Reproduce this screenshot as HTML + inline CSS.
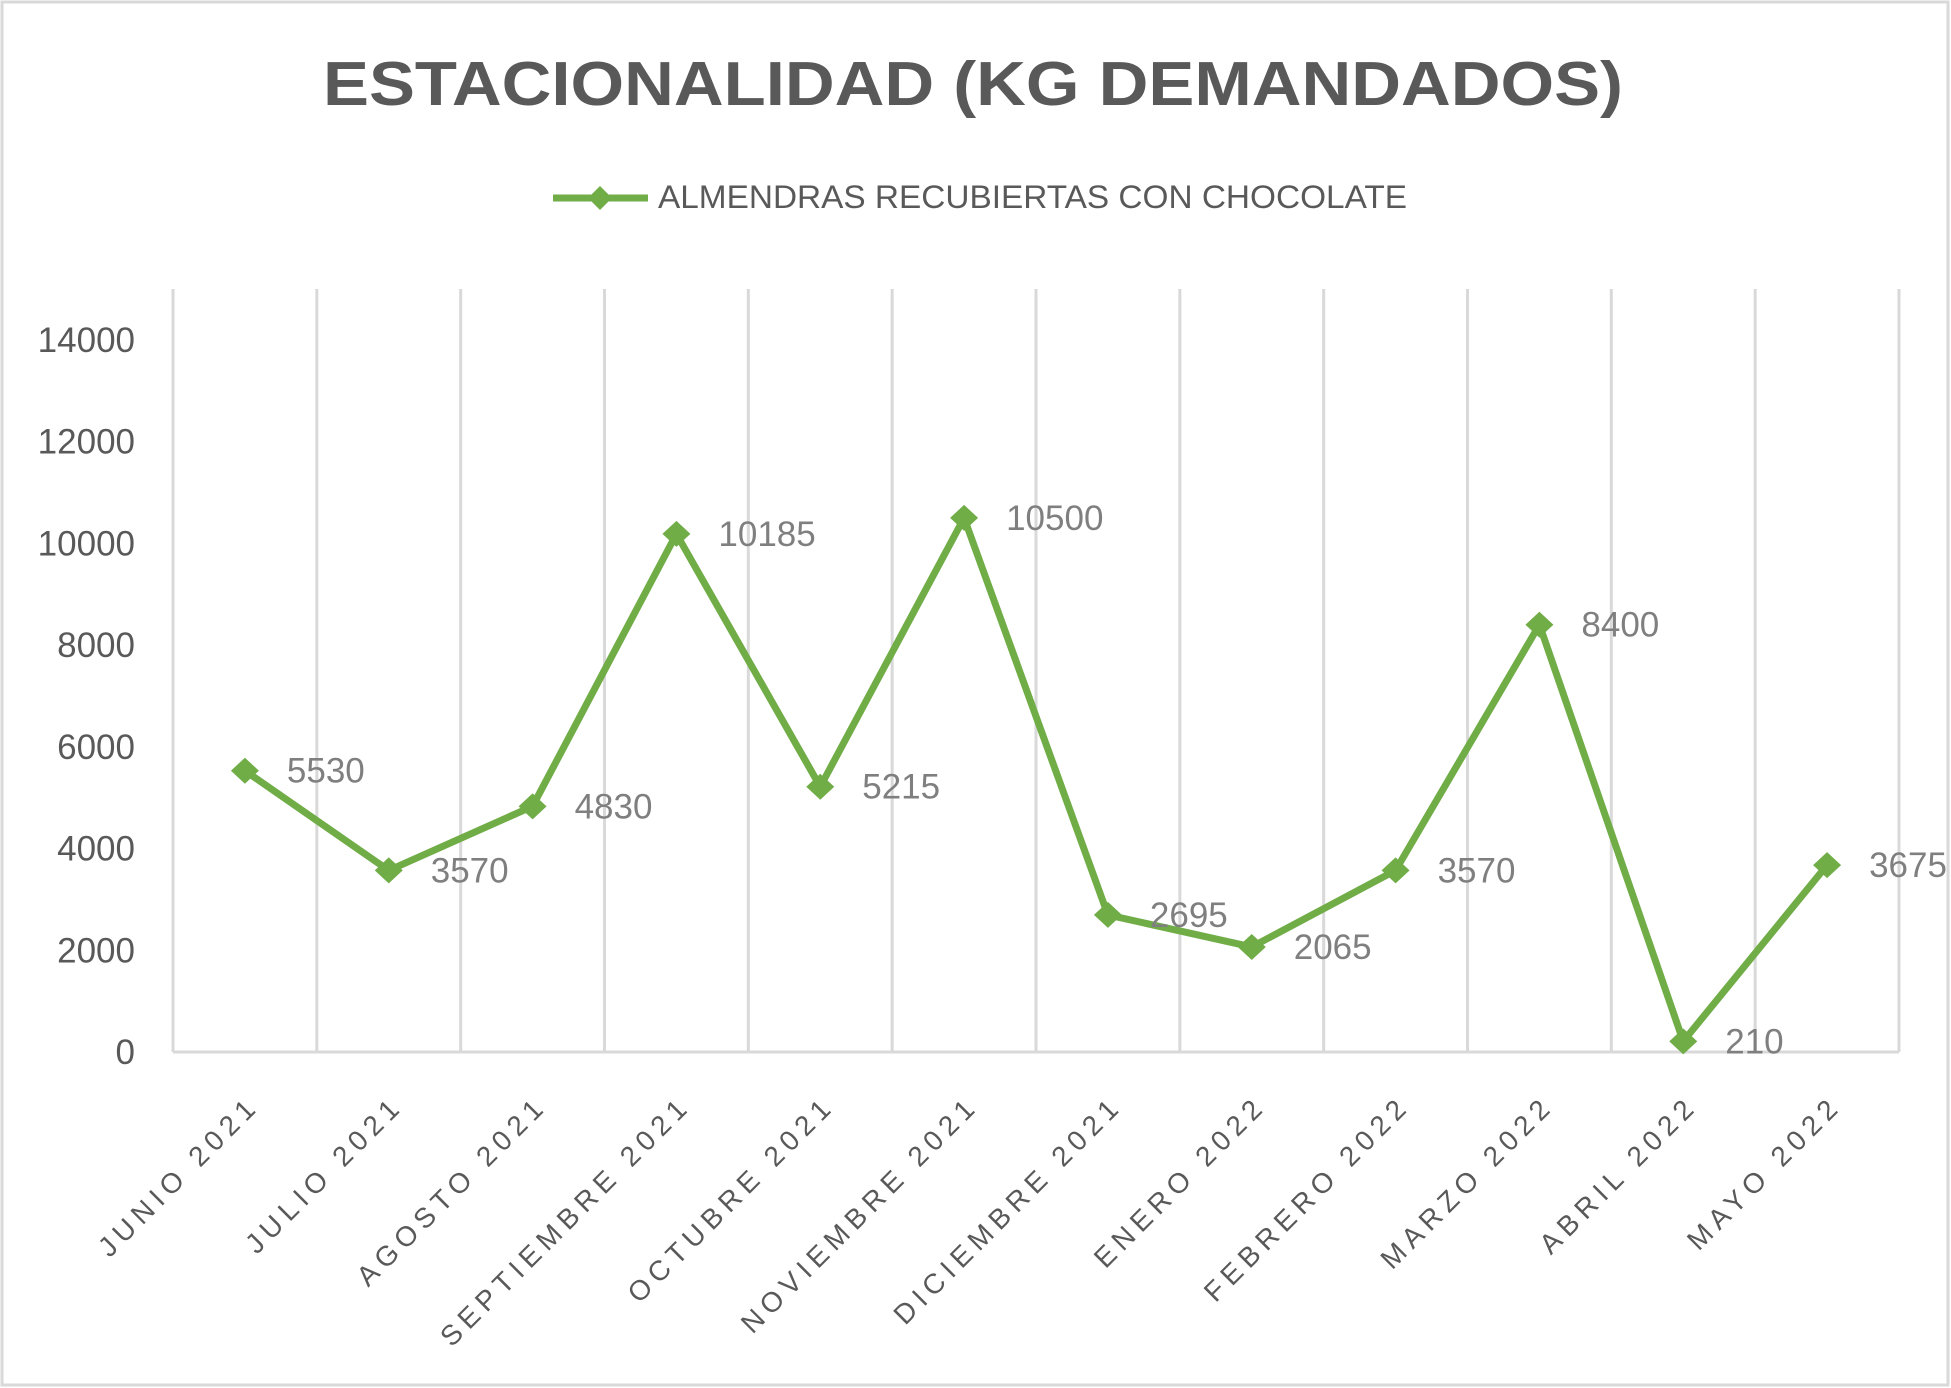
<!DOCTYPE html>
<html><head><meta charset="utf-8"><style>
html,body{margin:0;padding:0;background:#fff}
svg{display:block;font-family:"Liberation Sans",sans-serif}
</style></head><body>
<svg id="chart" width="1951" height="1388" viewBox="0 0 1951 1388">
<rect x="2" y="2" width="1946" height="1383" fill="#fff" stroke="#d9d9d9" stroke-width="3"/>
<text x="323" y="105" textLength="1300" lengthAdjust="spacingAndGlyphs" font-size="62" font-weight="bold" fill="#595959">ESTACIONALIDAD (KG DEMANDADOS)</text>
<g>
<line x1="553" y1="198" x2="648" y2="198" stroke="#70ad47" stroke-width="7"/>
<path d="M600 186 L612 198 L600 210 L588 198 Z" fill="#70ad47"/>
<text x="658" y="208" textLength="749" lengthAdjust="spacingAndGlyphs" font-size="32" fill="#595959">ALMENDRAS RECUBIERTAS CON CHOCOLATE</text>
</g>
<g id="grid"></g><g id="yax"></g><g id="xax"></g><g id="series"></g><g id="labels"></g>
</svg>
<script>
const categories = ["JUNIO 2021","JULIO 2021","AGOSTO 2021","SEPTIEMBRE 2021","OCTUBRE 2021","NOVIEMBRE 2021","DICIEMBRE 2021","ENERO 2022","FEBRERO 2022","MARZO 2022","ABRIL 2022","MAYO 2022"];
const values = [5530,3570,4830,10185,5215,10500,2695,2065,3570,8400,210,3675];
const yTicks = [0,2000,4000,6000,8000,10000,12000,14000];
const yMax = 15000;
const L=173, R=1899, B=1052, T=289;
const NS="http://www.w3.org/2000/svg";
const bw=(R-L)/categories.length;
function xs(i){return L+bw*(i+0.5);}
function ys(v){return B-(B-T)*v/yMax;}
function mk(tag,attrs,parent){const e=document.createElementNS(NS,tag);for(const k in attrs)e.setAttribute(k,attrs[k]);document.getElementById(parent).appendChild(e);return e;}
for(let i=0;i<=categories.length;i++){
  const g=mk('line',{x1:L+bw*i,y1:T,x2:L+bw*i,y2:B,stroke:'#d9d9d9','stroke-width':3},'grid');
  
  
}
const ax=mk('line',{x1:L,y1:B,x2:R,y2:B,stroke:'#d9d9d9','stroke-width':3},'grid');


yTicks.forEach(v=>{
  const t=mk('text',{x:135,y:ys(v)+12,'text-anchor':'end','font-size':35,fill:'#595959'},'yax');
  t.textContent=v;
  
  
});
categories.forEach((c,i)=>{
  const x=xs(i)+2,y=1093;
  const t=mk('text',{x:x,y:y,'text-anchor':'end','dominant-baseline':'hanging','font-size':28,'letter-spacing':6,fill:'#595959',transform:`rotate(-45 ${x} ${y})`},'xax');
  t.textContent=c;
  
  
});
const pts=values.map((v,i)=>xs(i)+','+ys(v)).join(' ');
const pl=mk('polyline',{points:pts,fill:'none',stroke:'#70ad47','stroke-width':7,'stroke-linejoin':'round'},'series');


values.forEach((v,i)=>{
  const x=xs(i),y=ys(v);
  const m=mk('path',{d:`M${x} ${y-13} L${x+14} ${y} L${x} ${y+13} L${x-14} ${y} Z`,fill:'#70ad47'},'series');
  
  
  const t=mk('text',{x:x+42,y:y+12,'font-size':35,fill:'#7f7f7f'},'labels');
  t.textContent=v;
  
  
});
</script>
</body></html>
